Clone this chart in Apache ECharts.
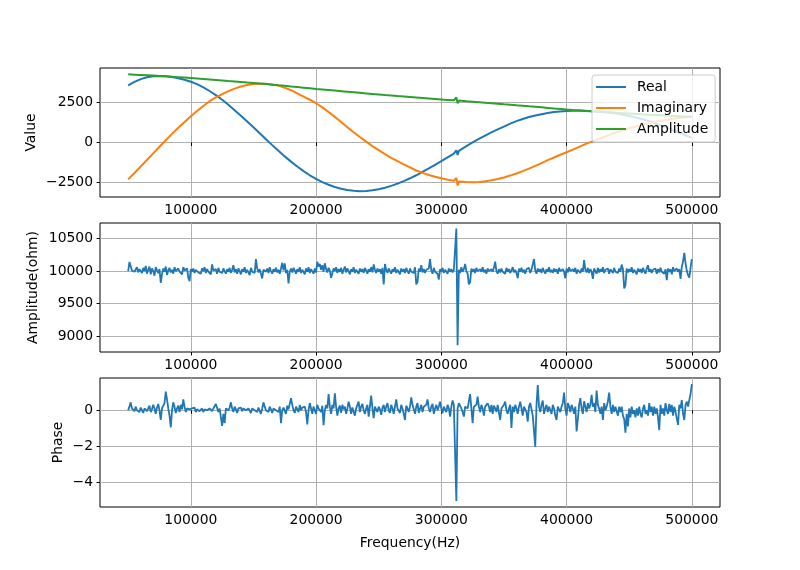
<!DOCTYPE html>
<html><head><meta charset="utf-8">
<script src="https://cdn.jsdelivr.net/npm/echarts@6/dist/echarts.min.js"></script>
<style>html,body{margin:0;padding:0;background:#fff}#c{width:800px;height:570px}</style>
</head><body><div id="c"></div>
<script>
const FONT = 'DejaVu Sans';
const FS = 13.9;

// ---- top panel: sampled every 5000 Hz from 50000 Hz ----
const topFreqStart = 50000, topFreqStep = 5000;
const realVals = [3600,3820,3990,4110,4170,4190,4165,4120,4040,3945,
  3820,3670,3470,3240,2980,2690,2370,2030,1680,1320,
  950,580,200,-170,-530,-880,-1210,-1520,-1810,-2070,
  -2300,-2500,-2670,-2810,-2920,-3000,-3050,-3070,-3060,-3020,
  -2950,-2860,-2740,-2600,-2440,-2260,-2070,-1860,-1640,-1410,
  -1180,-940,-700,-460,-230,0,220,430,630,820,
  1000,1180,1340,1480,1600,1700,1780,1850,1910,1950,
  1975,1995,1995,1985,1965,1940,1905,1865,1820,1750,
  1670,1580,1480,1370,1230,1080,930,770,610,450,290];
const imagVals = [-2330,-1930,-1520,-1110,-690,-270,140,540,920,1290,
  1650,1980,2290,2600,2840,3040,3230,3390,3520,3620,
  3680,3705,3690,3650,3580,3450,3290,3090,2890,2690,
  2470,2210,1920,1610,1290,960,640,340,50,-230,
  -490,-740,-970,-1180,-1380,-1570,-1770,-1920,-2050,-2160,
  -2260,-2350,-2420,-2470,-2500,-2510,-2490,-2450,-2390,-2310,
  -2210,-2090,-1960,-1810,-1650,-1480,-1300,-1120,-950,-780,
  -620,-450,-280,-110,50,210,360,500,640,770,
  890,1000,1100,1190,1280,1360,1430,1490,1540,1580,1610];
const ampVals = [4290,4270,4250,4230,4210,4190,4165,4140,4115,4085,
  4055,4025,3995,3965,3935,3905,3870,3840,3810,3775,
  3745,3710,3675,3640,3600,3565,3525,3490,3450,3410,
  3370,3335,3300,3265,3230,3195,3160,3125,3090,3055,
  3020,2985,2955,2920,2890,2860,2830,2800,2770,2740,
  2710,2680,2650,2620,2590,2560,2530,2500,2470,2440,
  2405,2375,2340,2310,2275,2245,2210,2175,2140,2110,
  2075,2045,2020,1995,1970,1945,1920,1895,1870,1845,
  1820,1795,1770,1750,1730,1710,1690,1670,1650,1630,1610];
// glitch near 312 kHz
const glitchFreq = [311000,312000,313000,314000];
const realGlitch = [-650,-500,-790,-530];
const imagGlitch = [-2430,-2230,-2720,-2460];
const ampGlitch  = [2645,2840,2470,2635];

// ---- middle / bottom panels: sampled every 1000 Hz from 50000 Hz ----
const noiseFreqStart = 50000, noiseFreqStep = 1000;
const ohmVals = [
  10000,10140,10120,10010,10040,9990,10020,10060,9980,10030,
  10010,9970,10050,10000,10080,9960,10020,10070,9950,10040,
  10000,9930,10060,10010,9970,10030,9820,9950,10040,9990,
  10070,9940,10010,10050,9980,10020,9960,10060,10000,9970,
  10040,9990,10020,9950,10060,10010,9980,10040,9900,9846,
  10030,9990,10040,9970,10020,10050,9980,10010,9960,10040,
  10000,10060,9970,10030,9990,10020,9950,10103,10010,9980,
  10030,9960,10050,9990,10020,9970,10040,10000,9960,10030,
  9990,10050,9970,10020,10090,9980,10030,9960,10040,10000,
  9950,10030,9990,10060,9970,10020,10000,9940,10050,9990,
  10020,9970,10185,10040,9980,10030,9960,9887,10020,10050,
  9990,10040,9970,10060,10000,9960,10030,9990,10050,9980,
  10020,9960,10040,10128,10010,10118,9970,10020,9810,9990,
  10040,9980,10050,10010,9960,10030,9990,10060,9970,10020,
  10000,9950,10040,9990,10060,9970,10030,10010,9960,10040,
  9980,10144,10070,10110,10020,10090,9990,10120,10030,9980,
  10050,10010,9897,9920,10040,10000,10060,9970,10030,9990,
  10050,9960,10020,10070,9980,10040,10000,9950,10030,9990,
  10060,9970,10020,10000,9960,10040,9990,10030,9970,10050,
  10010,9960,10030,9990,10060,9980,10103,10020,9970,10040,
  9990,10030,9960,10050,9795,10110,10020,9970,10040,10000,
  9960,10030,9990,10060,9970,10020,10000,9950,10040,9990,
  10030,9970,10050,10000,9960,10040,9990,10020,9970,10060,
  9795,9830,10040,9990,10090,9980,10030,9970,10020,9990,
  10040,10185,10010,9960,10050,9990,10020,9960,9870,10030,
  9990,10050,9970,10020,10000,9960,10040,9990,10030,9980,
  10020,10000,10656,8859,10020,9970,10060,9990,10030,10110,
  10000,9960,9795,9830,10040,9990,10030,9970,10050,10000,
  9970,10030,9990,10060,9980,10020,9960,10040,10000,9970,
  10030,9990,10050,10144,10000,9960,10030,9980,10040,9990,
  10020,9960,10050,9990,10030,9970,10010,10060,9980,10020,
  9970,9890,10040,9990,10050,9980,10020,9960,10030,10000,
  10050,9970,10020,9990,10185,10010,9960,10040,9990,10030,
  9970,10050,10000,9960,10030,9990,10060,9980,10020,9970,
  10040,9990,10030,9960,10050,10000,9970,10030,9990,9890,
  10040,9980,10060,10000,9970,10030,9990,10050,9960,10020,
  10000,9970,10040,9990,10170,10020,9980,10050,9970,10030,
  9990,9880,10040,10000,9960,10050,9980,10030,9990,10060,
  9970,10020,9990,10040,9960,10030,10000,9970,10050,9990,
  10020,9970,10040,9990,10100,10030,9733,9780,10040,9980,
  10030,9990,10060,9970,10020,10000,9950,10040,9990,10030,
  9970,10050,10000,9960,10040,10090,9990,10030,9970,10020,
  9990,10040,9960,10030,9980,10050,9990,10020,9960,10030,
  9860,10040,9990,10030,9950,10060,10000,9970,10040,9990,
  10030,9880,10060,10150,10282,10120,10000,9940,9900,10050,
  10185];
const phaseVals = [
  0.0,0.2,0.44,0.1,0.15,-0.05,0.2,0.0,0.1,-0.1,
  0.15,0.05,-0.15,0.1,0.2,-0.05,0.1,0.25,-0.1,0.05,
  0.3,0.1,-0.2,0.15,0.35,0.0,-0.54,0.1,0.2,0.4,
  1.03,0.6,0.1,-0.3,-0.95,0.0,0.44,0.2,-0.15,0.1,
  0.25,-0.1,0.3,0.05,0.6,0.2,-0.1,0.1,0.0,0.05,
  -0.05,0.1,0.0,0.15,-0.1,0.05,0.1,-0.05,0.0,0.1,
  -0.1,0.05,0.15,0.0,-0.1,0.1,0.2,-0.05,0.1,0.0,
  0.35,0.25,-0.1,0.1,0.0,-0.87,-0.2,-0.72,0.1,0.2,
  0.0,0.15,0.44,0.1,-0.1,0.2,0.05,-0.15,0.1,0.0,
  0.15,-0.05,0.1,0.2,0.0,-0.1,0.1,0.05,-0.15,0.1,
  0.2,0.0,0.1,-0.1,0.15,0.05,-0.2,0.1,0.44,0.2,
  0.0,0.1,-0.1,0.2,0.05,-0.15,0.1,0.2,0.0,0.1,
  -0.1,0.2,-0.72,0.0,0.15,0.1,-0.2,0.25,0.05,0.1,
  0.67,0.3,0.0,-0.15,0.2,0.1,-0.1,0.3,0.0,0.15,
  0.05,0.2,-0.1,-0.78,0.0,0.4,0.1,-0.2,0.2,0.0,
  -0.2,0.3,0.1,0.2,-0.1,0.25,-0.83,0.0,0.3,0.1,
  0.9,0.2,-0.2,0.3,0.1,0.94,0.2,-0.3,0.1,0.25,
  -0.15,0.3,0.05,0.2,-0.2,0.1,0.48,0.2,-0.2,0.15,
  0.2,-0.3,0.1,0.3,0.48,-0.1,0.2,0.35,0.0,-0.2,
  0.1,0.3,-0.35,0.2,0.81,0.1,-0.44,0.2,0.3,-0.1,
  0.2,0.05,-0.25,0.15,0.3,-0.1,0.2,0.4,0.0,-0.15,
  0.3,0.1,-0.2,0.2,0.6,0.1,0.0,-0.15,0.3,0.1,
  -0.2,-0.54,0.25,0.1,-0.1,0.2,0.72,0.3,0.05,-0.2,
  0.2,0.4,-0.15,0.1,0.3,-0.1,0.2,0.1,0.3,0.6,
  0.1,-0.1,0.2,0.35,-0.2,0.1,0.3,0.0,0.2,0.48,
  0.1,-0.15,0.2,0.15,-0.1,0.3,0.1,-0.35,0.2,0.54,
  0.3,0.2,-5.03,0.1,0.39,0.3,0.1,-0.1,-0.35,0.2,
  0.3,0.1,0.2,0.9,0.1,-0.72,0.2,0.1,0.3,0.76,
  0.2,-0.1,0.3,0.1,-0.3,0.2,0.1,0.39,0.2,-0.1,
  0.3,-0.2,0.25,0.1,-0.1,0.3,0.2,-0.54,0.1,0.2,
  0.3,0.48,0.0,-0.2,0.1,0.3,-0.98,0.2,-0.1,0.3,
  0.1,-0.2,0.2,0.48,0.1,-0.3,0.2,0.3,-0.1,-0.63,
  0.2,0.4,0.48,-0.3,-0.4,-2.02,0.3,1.40,0.2,-0.1,
  0.3,0.54,-0.2,0.1,0.3,-0.1,0.2,0.1,-0.2,0.3,
  0.1,-0.3,-0.54,0.2,0.3,-0.1,0.2,0.4,0.98,0.1,
  -0.3,0.4,0.2,-0.1,0.3,0.1,-0.2,0.2,-1.18,-0.5,
  0.3,0.67,0.1,-0.2,0.5,0.2,-0.1,0.4,0.1,0.3,
  0.85,0.2,0.4,-0.1,1.09,0.3,0.1,-0.2,0.2,-0.54,
  0.4,0.0,0.2,0.5,0.98,0.2,-0.2,0.3,-0.1,0.2,
  0.3,-0.3,0.2,-0.1,0.2,-0.3,-0.5,-1.24,-0.2,-0.9,
  0.1,-0.4,0.2,-0.2,0.0,-0.4,0.1,-0.3,0.2,-0.2,
  -0.4,0.1,0.3,-0.2,0.0,-0.3,0.4,-0.1,0.2,-0.3,
  0.2,-0.2,0.1,-0.4,-1.1,0.3,-0.2,0.1,-0.3,0.4,
  0.0,-0.2,0.35,-0.1,0.3,-0.3,0.2,-0.1,-0.2,-0.81,
  0.3,0.1,0.57,-0.2,-0.54,0.3,0.48,0.2,0.57,0.9,
  1.45];

// ---- tick labels ----
const freqTicks = [100000,200000,300000,400000,500000];
const valueTicks = [-2500,0,2500];
const ohmTicks = [9000,9500,10000,10500];
const phaseTicks = [-4,-2,0];

const seriesNames = ['Real','Imaginary','Amplitude'];
const colors = ['#1f77b4','#ff7f0e','#2ca02c'];

function topPoints(vals, gl) {
  const pts = vals.map((v, i) => [topFreqStart + i * topFreqStep, v]);
  glitchFreq.forEach((f, j) => pts.push([f, gl[j]]));
  pts.sort((a, b) => a[0] - b[0]);
  return pts;
}
function noisePoints(vals) {
  return vals.map((v, i) => [noiseFreqStart + i * noiseFreqStep, v]);
}
const fmt = v => String(v).replace('-', '\u2212');

function xAxis(idx) {
  return {
    type: 'value', gridIndex: idx, min: 27500, max: 522500,
    axisLine: {show: false},
    axisTick: {show: true, customValues: freqTicks, length: 3.5, lineStyle: {color: '#000', width: 1}},
    axisLabel: {customValues: freqTicks, margin: 6, color: '#000', fontFamily: FONT, fontSize: FS, formatter: fmt},
    splitLine: {show: true, lineStyle: {color: '#b0b0b0', width: 1}}
  };
}
function yAxis(idx, min, max, ticks) {
  return {
    type: 'value', gridIndex: idx, min: min, max: max,
    axisLine: {show: false},
    axisTick: {show: true, customValues: ticks, length: 3.5, lineStyle: {color: '#000', width: 1}},
    axisLabel: {customValues: ticks, margin: 7, color: '#000', fontFamily: FONT, fontSize: FS, formatter: fmt},
    splitLine: {show: true, lineStyle: {color: '#b0b0b0', width: 1}}
  };
}
const gridBase = {left: 100, width: 620, height: 129, show: true, borderColor: '#000', borderWidth: 1, containLabel: false};

const lineSeries = (name, xi, data, color, w) => ({
  name: name, type: 'line', xAxisIndex: xi, yAxisIndex: xi, data: data,
  showSymbol: false, symbol: 'none', lineStyle: {color: color, width: w}, itemStyle: {color: color},
  animation: false, z: 3
});

const chart = echarts.init(document.getElementById('c'), null, {renderer: 'canvas'});
chart.setOption({
  animation: false,
  backgroundColor: '#fff',
  grid: [
    Object.assign({top: 68}, gridBase),
    Object.assign({top: 223}, gridBase),
    Object.assign({top: 378}, gridBase)
  ],
  xAxis: [xAxis(0), xAxis(1), xAxis(2)],
  yAxis: [
    yAxis(0, -3440, 4690, valueTicks),
    yAxis(1, 8755, 10740, ohmTicks),
    yAxis(2, -5.37, 1.79, phaseTicks)
  ],
  legend: {
    data: seriesNames, orient: 'vertical', left: 592, top: 75,
    padding: [5, 7, 6, 4], itemGap: 7, itemWidth: 30, itemHeight: 2, icon: 'rect',
    backgroundColor: 'rgba(255,255,255,0.8)', borderColor: '#cccccc', borderWidth: 1, borderRadius: 3,
    textStyle: {fontFamily: FONT, fontSize: FS, color: '#000', lineHeight: 14, padding: [0, 0, 0, 6]}
  },
  series: [
    lineSeries('Real', 0, topPoints(realVals, realGlitch), colors[0], 2),
    lineSeries('Imaginary', 0, topPoints(imagVals, imagGlitch), colors[1], 2),
    lineSeries('Amplitude', 0, topPoints(ampVals, ampGlitch), colors[2], 2),
    lineSeries('ohm', 1, noisePoints(ohmVals), colors[0], 1.8),
    lineSeries('phase', 2, noisePoints(phaseVals), colors[0], 1.8)
  ],
  graphic: [
    {type: 'text', x: 31, y: 132.5, rotation: Math.PI / 2,
      style: {text: 'Value', fontFamily: FONT, fontSize: FS, fill: '#000', align: 'center', verticalAlign: 'middle'}},
    {type: 'text', x: 33, y: 287.5, rotation: Math.PI / 2,
      style: {text: 'Amplitude(ohm)', fontFamily: FONT, fontSize: FS, fill: '#000', align: 'center', verticalAlign: 'middle'}},
    {type: 'text', x: 58, y: 442.5, rotation: Math.PI / 2,
      style: {text: 'Phase', fontFamily: FONT, fontSize: FS, fill: '#000', align: 'center', verticalAlign: 'middle'}},
    {type: 'text', x: 410, y: 543,
      style: {text: 'Frequency(Hz)', fontFamily: FONT, fontSize: FS, fill: '#000', align: 'center', verticalAlign: 'middle'}}
  ]
});
</script>
</body></html>
